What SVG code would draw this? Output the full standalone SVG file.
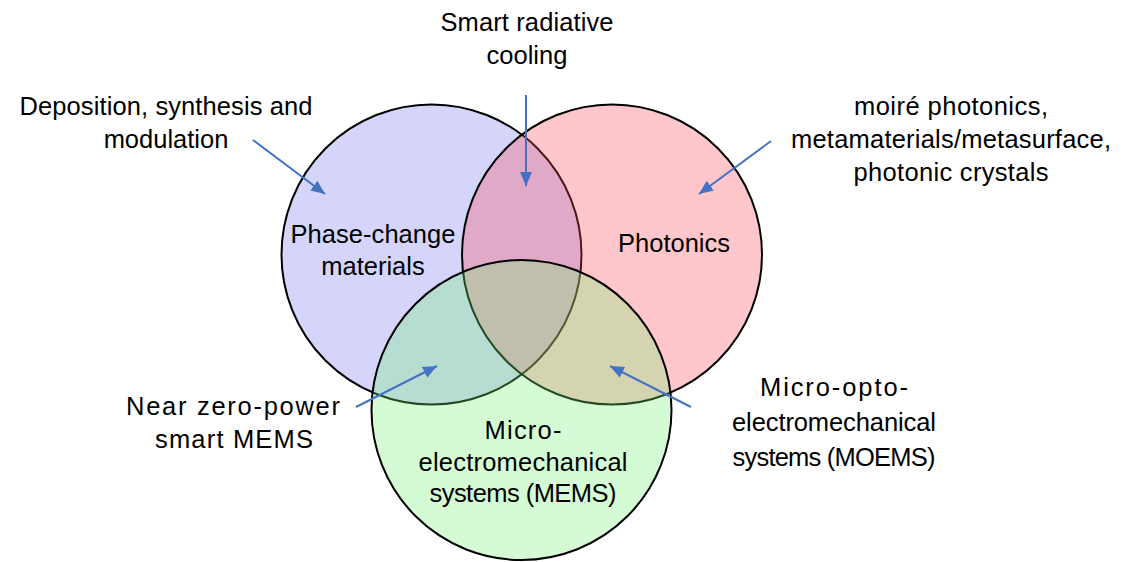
<svg xmlns="http://www.w3.org/2000/svg" width="1131" height="562" viewBox="0 0 1131 562">
  <style>
    .set { stroke: #000000; stroke-width: 2; fill-opacity: 0.3; }
    .lbl { font-family: "Liberation Sans", Arial, sans-serif; font-size: 25.5px; fill: #000000; text-anchor: middle; }
    .ptr { stroke: #4472C4; stroke-width: 2; fill: none; marker-end: url(#head); }
  </style>
  <defs>
    <marker id="head" markerUnits="userSpaceOnUse" markerWidth="16" markerHeight="14" refX="14" refY="6" orient="auto">
      <path d="M0,0 L14,6 L0,12 Z" fill="#4472C4"/>
    </marker>
  </defs>
  <rect width="1131" height="562" fill="#ffffff"/>

  <!-- Set circles: drawn in order so each translucent fill tints the outlines beneath it -->
  <g id="phase-change">
    <circle class="set" cx="431.5" cy="254.5" r="150" fill="#7373F2"/>
  </g>
  <g id="photonics">
    <circle class="set" cx="612" cy="254.5" r="150" fill="#FF4452"/>
  </g>
  <g id="mems">
    <circle class="set" cx="521.5" cy="410" r="150" fill="#73F273"/>
  </g>

  <!-- Set names -->
  <g id="phase-change-label">
    <text class="lbl" x="373" y="243" textLength="165" lengthAdjust="spacing">Phase-change</text>
    <text class="lbl" x="373" y="275">materials</text>
  </g>
  <g id="photonics-label">
    <text class="lbl" x="674" y="252" textLength="112" lengthAdjust="spacing">Photonics</text>
  </g>
  <g id="mems-label">
    <text class="lbl" x="523" y="439" textLength="77" lengthAdjust="spacing">Micro-</text>
    <text class="lbl" x="523" y="471" textLength="209" lengthAdjust="spacing">electromechanical</text>
    <text class="lbl" x="523" y="502" textLength="187" lengthAdjust="spacing">systems (MEMS)</text>
  </g>

  <!-- Outer callouts -->
  <g id="smart-radiative-cooling">
    <text class="lbl" x="527" y="31" textLength="173" lengthAdjust="spacing">Smart radiative</text>
    <text class="lbl" x="527" y="64">cooling</text>
  </g>
  <g id="deposition">
    <text class="lbl" x="166" y="115" textLength="293" lengthAdjust="spacing">Deposition, synthesis and</text>
    <text class="lbl" x="166" y="148">modulation</text>
  </g>
  <g id="photonic-structures">
    <text class="lbl" x="951" y="115" textLength="194" lengthAdjust="spacing">moiré photonics,</text>
    <text class="lbl" x="951" y="148" textLength="320" lengthAdjust="spacing">metamaterials/metasurface,</text>
    <text class="lbl" x="951" y="181" textLength="195" lengthAdjust="spacing">photonic crystals</text>
  </g>
  <g id="near-zero-power">
    <text class="lbl" x="233" y="415" textLength="214" lengthAdjust="spacing">Near zero-power</text>
    <text class="lbl" x="234" y="448" textLength="158" lengthAdjust="spacing">smart MEMS</text>
  </g>
  <g id="moems">
    <text class="lbl" x="834" y="396" textLength="148" lengthAdjust="spacing">Micro-opto-</text>
    <text class="lbl" x="834" y="431" textLength="204" lengthAdjust="spacing">electromechanical</text>
    <text class="lbl" x="834" y="466" textLength="203" lengthAdjust="spacing">systems (MOEMS)</text>
  </g>

  <!-- Pointer arrows -->
  <g id="connectors">
    <line class="ptr" x1="253" y1="140" x2="325" y2="194"/>
    <line class="ptr" x1="526" y1="95" x2="526" y2="186"/>
    <line class="ptr" x1="771" y1="141" x2="699" y2="194"/>
    <line class="ptr" x1="356" y1="407" x2="437" y2="366"/>
    <line class="ptr" x1="691" y1="407" x2="610" y2="366"/>
  </g>
</svg>
